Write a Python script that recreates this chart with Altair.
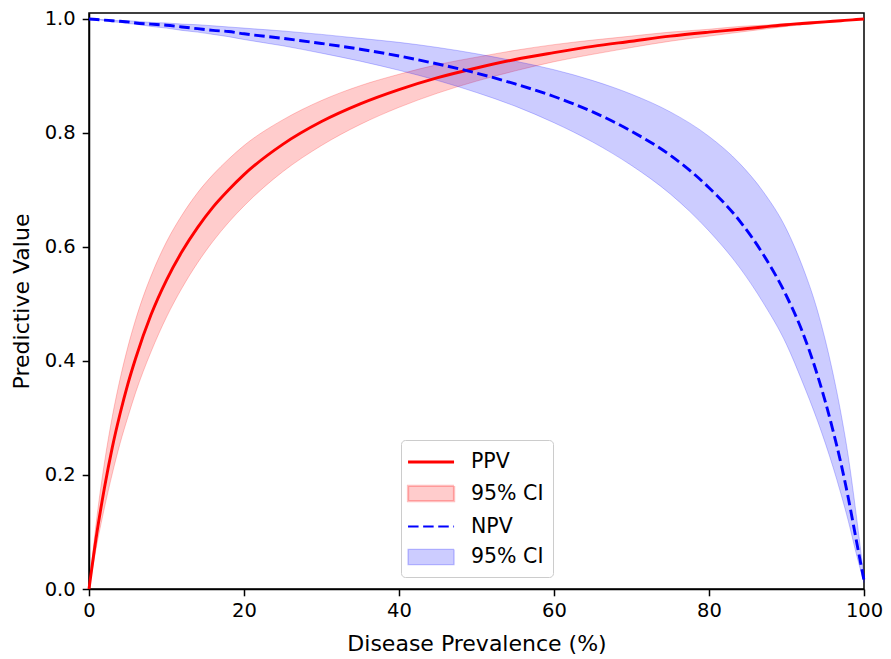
import altair as alt
import pandas as pd

# ---- data ----
prevalence = [0, 1, 2, 3, 4, 5, 6, 8, 10, 12, 14, 16, 18, 20, 25, 30, 35, 40, 45, 50,
              55, 60, 65, 70, 75, 80, 84, 87, 90, 92, 94, 96, 97, 98, 99, 100]
ppv = [0.0, 0.097, 0.178, 0.248, 0.307, 0.359, 0.404, 0.481, 0.542, 0.592, 0.634, 0.670,
       0.700, 0.727, 0.780, 0.820, 0.851, 0.876, 0.897, 0.914, 0.929, 0.941, 0.952, 0.961,
       0.970, 0.977, 0.982, 0.986, 0.990, 0.992, 0.994, 0.996, 0.997, 0.998, 0.999, 1.0]
ppv_hi = [0.0, 0.124, 0.222, 0.302, 0.368, 0.424, 0.472, 0.549, 0.609, 0.656, 0.695, 0.727,
          0.754, 0.778, 0.823, 0.857, 0.883, 0.903, 0.920, 0.933, 0.945, 0.955, 0.963, 0.970,
          0.977, 0.982, 0.987, 0.989, 0.992, 0.994, 0.996, 0.997, 0.998, 0.999, 0.9993, 1.0]
ppv_lo = [0.0, 0.077, 0.143, 0.202, 0.255, 0.301, 0.344, 0.416, 0.477, 0.528, 0.572, 0.610,
          0.643, 0.672, 0.732, 0.778, 0.815, 0.845, 0.870, 0.891, 0.909, 0.925, 0.938, 0.950,
          0.961, 0.970, 0.977, 0.982, 0.987, 0.990, 0.992, 0.995, 0.996, 0.998, 0.999, 1.0]
npv = [1.0, 0.999, 0.998, 0.997, 0.996, 0.995, 0.993, 0.991, 0.989, 0.986, 0.983, 0.980,
       0.978, 0.974, 0.966, 0.957, 0.947, 0.935, 0.921, 0.905, 0.886, 0.864, 0.837, 0.803,
       0.761, 0.704, 0.645, 0.587, 0.514, 0.453, 0.375, 0.278, 0.222, 0.158, 0.086, 0.015]
npv_hi = [1.0, 0.9993, 0.999, 0.998, 0.997, 0.997, 0.996, 0.994, 0.993, 0.991, 0.990, 0.988,
          0.986, 0.984, 0.979, 0.973, 0.966, 0.959, 0.950, 0.939, 0.926, 0.911, 0.892, 0.868,
          0.837, 0.794, 0.746, 0.697, 0.631, 0.568, 0.488, 0.378, 0.310, 0.230, 0.130, 0.02]
npv_lo = [1.0, 0.999, 0.997, 0.995, 0.994, 0.992, 0.991, 0.987, 0.984, 0.980, 0.977, 0.973,
          0.969, 0.964, 0.953, 0.940, 0.926, 0.910, 0.892, 0.871, 0.847, 0.818, 0.784, 0.743,
          0.693, 0.628, 0.563, 0.502, 0.429, 0.365, 0.295, 0.214, 0.168, 0.118, 0.062, 0.011]

x_ticks = [0, 20, 40, 60, 80, 100]
y_ticks = [0.0, 0.2, 0.4, 0.6, 0.8, 1.0]

legend_keys = ["PPV", "PPV CI", "NPV", "NPV CI"]

df = pd.DataFrame({
    "prevalence": prevalence,
    "ppv": ppv, "ppv_lo": ppv_lo, "ppv_hi": ppv_hi,
    "npv": npv, "npv_lo": npv_lo, "npv_hi": npv_hi,
})

FONT = "DejaVu Sans"
TICK_FS = 19.5
TITLE_FS = 22
LEG_FS = 20.5

x_enc = alt.X("prevalence:Q",
              scale=alt.Scale(domain=[0, 100], nice=False, zero=False),
              axis=alt.Axis(values=x_ticks, format="d", title="Disease Prevalence (%)"))


def y_enc(field):
    return alt.Y(f"{field}:Q",
                 scale=alt.Scale(domain=[0, 1.0105], nice=False),
                 axis=alt.Axis(values=y_ticks, format=".1f", title="Predictive Value"))


base = alt.Chart(df)

ppv_band = base.mark_area(fill="red", fillOpacity=0.2, stroke="red", strokeOpacity=0.22,
                          strokeWidth=1, interpolate="monotone").encode(
    x=x_enc, y=y_enc("ppv_lo"), y2="ppv_hi:Q")
npv_band = base.mark_area(fill="blue", fillOpacity=0.2, stroke="blue", strokeOpacity=0.22,
                          strokeWidth=1, interpolate="monotone").encode(
    x=x_enc, y=y_enc("npv_lo"), y2="npv_hi:Q")
ppv_line = base.mark_line(color="red", strokeWidth=2.9, interpolate="monotone").encode(
    x=x_enc, y=y_enc("ppv"))
npv_line = base.mark_line(color="blue", strokeWidth=2.9, strokeDash=[10.5, 4.6],
                          interpolate="monotone").encode(
    x=x_enc, y=y_enc("npv"))

# legend handle shapes (unit = half of sqrt(symbolSize))
LINE = "M-1.3,0L2.7,0"
RECT = "M-1.3,-0.66L2.7,-0.66L2.7,0.66L-1.3,0.66Z"

leg = alt.Legend(
    title=None, orient="none", legendX=312, legendY=427,
    labelExpr="datum.label == 'PPV CI' || datum.label == 'NPV CI' ? '95% CI' : datum.label",
    symbolSize=529, labelFont=FONT, labelFontSize=LEG_FS, labelColor="black",
    labelOffset=35, rowPadding=7.5, padding=9,
    fillColor="rgba(255,255,255,0.8)", strokeColor="#cccccc", cornerRadius=4,
)

legend_df = pd.DataFrame({"series": legend_keys})
legend_layer = alt.Chart(legend_df).transform_filter("false").mark_point(
    opacity=1, filled=False).encode(
    shape=alt.Shape("series:N", scale=alt.Scale(domain=legend_keys,
                                                range=[LINE, RECT, LINE, RECT]), legend=leg),
    fill=alt.Fill("series:N", scale=alt.Scale(
        domain=legend_keys,
        range=["transparent", "rgba(255,0,0,0.2)", "transparent", "rgba(0,0,255,0.2)"]),
        legend=leg),
    stroke=alt.Stroke("series:N", scale=alt.Scale(
        domain=legend_keys,
        range=["red", "rgba(255,0,0,0.25)", "blue", "rgba(0,0,255,0.25)"]),
        legend=leg),
    strokeDash=alt.StrokeDash("series:N", scale=alt.Scale(
        domain=legend_keys, range=[[1, 0], [1, 0], [10.5, 4.6], [1, 0]]), legend=leg),
    strokeWidth=alt.StrokeWidth("series:N", scale=alt.Scale(
        domain=legend_keys, range=[2.9, 1.2, 2.9, 1.2]), legend=leg),
)

chart = alt.layer(ppv_band, npv_band, ppv_line, npv_line, legend_layer).properties(
    width=775, height=576,
    autosize="none",
    padding={"left": 81, "top": 5, "right": 19, "bottom": 70},
).configure_axis(
    labelFont=FONT, labelFontSize=TICK_FS, labelColor="black",
    titleFont=FONT, titleFontSize=TITLE_FS, titleFontWeight="normal", titleColor="black",
    tickColor="black", tickSize=6.8, tickWidth=1.5,
    domainColor="black", domainWidth=1.5, grid=False, labelFlush=False,
).configure_axisX(
    labelPadding=6, titlePadding=13,
).configure_axisY(
    labelPadding=7, titlePadding=11,
).configure_view(
    stroke="black", strokeWidth=1.5,
)

chart.save("out.html", embed_options={"renderer": "svg", "actions": False})
